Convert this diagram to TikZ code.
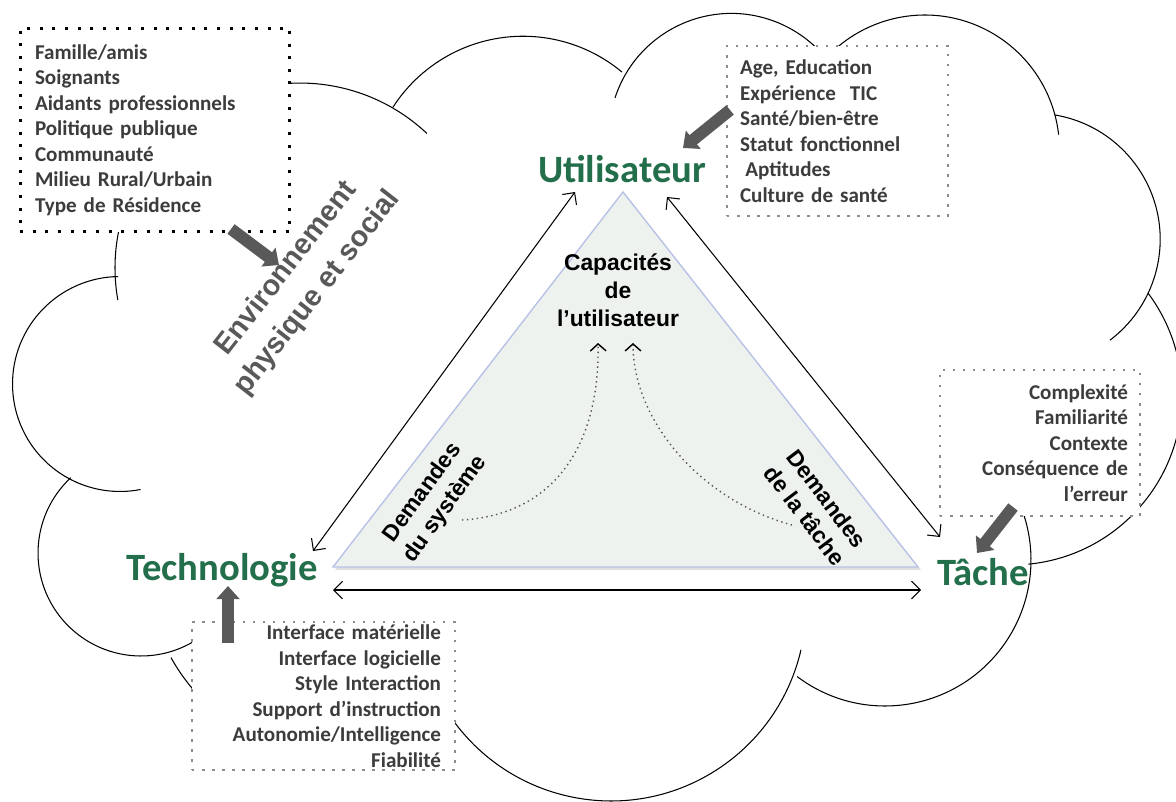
\documentclass[tikz,border=0pt]{standalone}
\usepackage{fontspec}
\setmainfont{Carlito}
\newfontfamily\arialfont{Liberation Sans}
\usetikzlibrary{arrows.meta}

\definecolor{titlegreen}{HTML}{236E4B}
\definecolor{boxtext}{HTML}{3C3C3C}
\definecolor{envgray}{HTML}{595959}
\definecolor{arrowgray}{HTML}{595959}
\definecolor{trifill}{HTML}{EDF2EE}
\definecolor{triline}{HTML}{B8C2E6}
\definecolor{dotgray}{HTML}{8C8C8C}
\definecolor{hintgray}{HTML}{555555}

\begin{document}
\begin{tikzpicture}[x=0.02cm, y=-0.02cm]
\tikzset{
  cloudline/.style={draw=black, line width=0.6pt},
  blackdots/.style={draw=black, line width=1.7pt, dash pattern=on 1.7pt off 5.5pt, fill=white},
  graydots/.style={draw=dotgray, line width=1.4pt, dash pattern=on 1.4pt off 4.3pt, fill=white},
  listtext/.style={font=\bfseries\fontsize{12}{14.5}\selectfont, text=boxtext},
  title/.style={font=\bfseries\fontsize{22}{26}\selectfont, text=titlegreen, anchor=base},
  tritext/.style={font=\arialfont\bfseries\fontsize{13}{15.8}\selectfont, align=center},
  link/.style={line width=0.6pt, {Straight Barb[length=5pt,width=10pt]}-{Straight Barb[length=5pt,width=10pt]}},
  fatarrow/.style={draw=arrowgray, line width=6.8pt, -{Triangle[length=7.5pt,width=13pt]}},
  hint/.style={draw=hintgray, line width=0.8pt, dotted, -{Straight Barb[length=4pt,width=9pt,color=black]}}
}
\useasboundingbox (0,0) rectangle (1176,801);
\clip (0,0) rectangle (1176,801);

\draw[cloudline] (300,268) ++(190:3.7cm) arc[start angle=190, end angle=46.7, radius=3.7cm];
\draw[cloudline] (120,384) ++(91:2.15cm) arc[start angle=91, end angle=281, radius=2.15cm];
\draw[cloudline] (141,553) ++(133:2.06cm) arc[start angle=133, end angle=301, radius=2.06cm];
\draw[cloudline] (338,565) ++(209:3.82cm) arc[start angle=209, end angle=307, radius=3.82cm];
\draw[cloudline] (611,606) ++(214:3.9cm) arc[start angle=214, end angle=347, radius=3.9cm];
\draw[cloudline] (885,560) ++(233:2.92cm) arc[start angle=233, end angle=378, radius=2.92cm];
\draw[cloudline] (1012,395) ++(-84.5:3.4cm) arc[start angle=-84.5, end angle=36.9, radius=3.4cm];
\draw[cloudline] (1034,239.4) ++(80.4:2.524cm) arc[start angle=80.4, end angle=-53, radius=2.524cm];
\draw[cloudline] (924.8,149.7) ++(150:2.694cm) arc[start angle=150, end angle=6.4, radius=2.694cm];
\draw[cloudline] (731.3,135.7) ++(162:2.446cm) arc[start angle=162, end angle=40, radius=2.446cm];
\draw[cloudline] (523,190.9) ++(147.2:3.094cm) arc[start angle=147.2, end angle=50.2, radius=3.094cm];

\node[blackdots, listtext, inner xsep=0.3cm, inner ysep=2pt, text width=4.8cm, minimum height=4.08cm, align=left] (envbox) at (155,130)
  {Famille/amis\\Soignants\\Aidants professionnels\\Politique publique\\Communauté\\Milieu Rural/Urbain\\Type de Résidence};
\node[graydots, listtext, inner xsep=0.26cm, inner ysep=2pt, text width=3.9cm, minimum height=3.4cm, align=left] (userbox) at (837.5,131)
  {Age, Education\\Expérience~~TIC\\Santé/bien-être\\Statut fonctionnel\\\hspace{0.25em}Aptitudes\\Culture de santé};
\node[graydots, listtext, inner xsep=0.24cm, inner ysep=2pt, text width=3.52cm, minimum height=2.92cm, align=right] (taskbox) at (1040,443)
  {Complexité\\Familiarité\\Contexte\\Conséquence de\\l’erreur};
\node[graydots, listtext, inner xsep=0.28cm, inner ysep=0pt, text width=4.7cm, minimum height=2.96cm, align=right] (techbox) at (323.5,696)
  {Interface matérielle\\Interface logicielle\\Style Interaction\\Support d’instruction\\Autonomie/Intelligence\\Fiabilité};

\fill[black, opacity=0.12] (335,570) -- (625,195) -- (921,570) -- cycle;
\draw[fill=trifill, draw=triline, line width=0.8pt] (333,567) -- (623,192) -- (918,567) -- cycle;

\node[title] (user) at (622,182) {Utilisateur};
\node[title] (tech) at (222,580) {Technologie};
\node[title] (task) at (983,585) {Tâche};

\node[font=\arialfont\bfseries\fontsize{16.5}{22.5}\selectfont, text=envgray, align=center, rotate=52] (env) at (302,281)
  {Environnement\\physique et social};
\node[tritext] (capa) at (618,290) {Capacités\\de\\l’utilisateur};
\node[tritext, rotate=54] (sysdem) at (434,501) {Demandes\\du système};
\node[tritext, rotate=-53] (taskdem) at (816,507) {Demandes\\de la tâche};

\coordinate (userTech) at (575,192);
\coordinate (techUser) at (313,551);
\coordinate (userTask) at (667,197);
\coordinate (taskUser) at (940,537);
\coordinate (techTask) at (333,590);
\coordinate (taskTech) at (921,590);
\draw[link] (userTech) -- (techUser);
\draw[link] (userTask) -- (taskUser);
\draw[link] (techTask) -- (taskTech);

\coordinate (sysStart) at (462,520);
\coordinate (sysEnd) at (598,343);
\coordinate (taskStart) at (792,525);
\coordinate (taskEnd) at (633,343);
\draw[hint] (sysStart) .. controls (550,515) and (600,450) .. (sysEnd);
\draw[hint] (taskStart) .. controls (700,500) and (633,420) .. (taskEnd);

\coordinate (envFrom) at (231,229);
\coordinate (envTo) at (279,265);
\coordinate (userFrom) at (730,110);
\coordinate (userTo) at (683,148);
\coordinate (taskFrom) at (1013,507);
\coordinate (taskTo) at (977,553);
\coordinate (techFrom) at (228,643);
\coordinate (techTo) at (228,586);
\draw[fatarrow] (envFrom) -- (envTo);
\draw[fatarrow] (userFrom) -- (userTo);
\draw[fatarrow] (taskFrom) -- (taskTo);
\draw[fatarrow] (techFrom) -- (techTo);
\end{tikzpicture}
\end{document}
